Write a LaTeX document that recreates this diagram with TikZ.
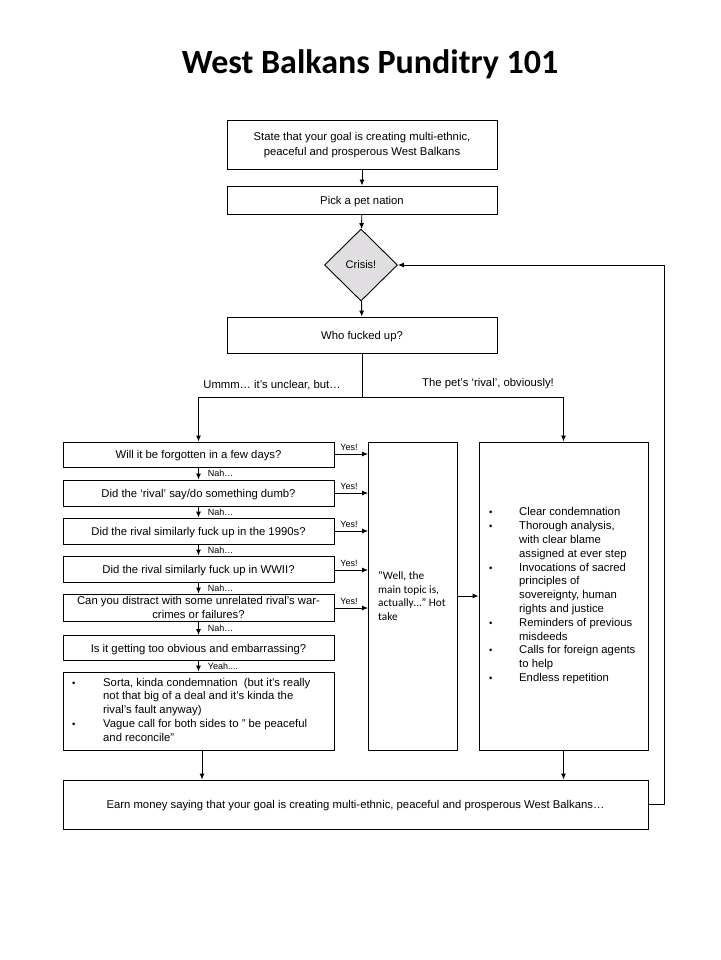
\documentclass[tikz,border=0pt]{standalone}
\usepackage{fontspec}
\setmainfont{Liberation Sans}
\newfontfamily\calfont{Carlito}
\usetikzlibrary{arrows.meta,shapes.geometric}
\tikzset{
  ln/.style={line width=0.9pt, draw=black},
  box/.style={ln, rectangle, inner sep=2pt, align=center, font=\fontsize{11.3}{13.8}\selectfont},
  one/.style={text height=8.6pt, text depth=0.5pt},
  qbox/.style={box, minimum width=271pt},
  arr/.style={ln, -{Latex[length=6pt,width=5pt]}},
  lbl/.style={font=\fontsize{9}{11}\selectfont, inner sep=1pt},
  toplbl/.style={font=\fontsize{11.3}{13.8}\selectfont, inner sep=1pt},
  txt/.style={inner sep=0pt, anchor=west, font=\fontsize{11.3}{13.8}\selectfont},
}
\newcommand{\bul}{{\fontsize{9.5}{9.5}\selectfont •}}
\begin{document}
\begin{tikzpicture}[x=1pt,y=-1pt]
\fill[white] (0,0) rectangle (720,960);
\useasboundingbox (0,0) rectangle (720,960);

% title
\node[font=\calfont\bfseries\fontsize{34}{40}\selectfont, anchor=base, inner sep=0pt] (title) at (370,74) {West Balkans Punditry 101};

% top chain
\node[box, minimum width=270pt, minimum height=49pt, font=\fontsize{11.3}{15.5}\selectfont] (b1) at (362,145)
  {State that your goal is creating multi-ethnic,\\peaceful and prosperous West Balkans};
\node[box, one, minimum width=270pt, minimum height=28pt] (b2) at (362,200) {Pick a pet nation};
\node[ln, diamond, fill={rgb,255:red,224;green,222;blue,224}, minimum width=73pt, minimum height=72pt, inner sep=0pt,
  font=\fontsize{11}{13}\selectfont] (crisis) at (361,265) {Crisis!};
\node[box, one, minimum width=270pt, minimum height=36pt] (who) at (362,335) {Who fucked up?};

\draw[arr] (b1) -- (b2);
\draw[arr] (b2) -- (crisis);
\draw[arr] (crisis) -- (who);

\coordinate (split) at (362,397);
\node[toplbl] (lu) at (272,385) {Ummm… it’s unclear, but…};
\node[toplbl] (lr) at (488,384) {The pet’s ‘rival’, obviously!};

% left column
\node[qbox, one, minimum height=25pt] (q1) at (198.5,454.5) {Will it be forgotten in a few days?};
\node[qbox, one, minimum height=26pt] (q2) at (198.5,493) {Did the ‘rival’ say/do something dumb?};
\node[qbox, one, minimum height=26pt] (q3) at (198.5,531) {Did the rival similarly fuck up in the 1990s?};
\node[qbox, one, minimum height=26pt] (q4) at (198.5,569) {Did the rival similarly fuck up in WWII?};
\node[qbox, minimum height=27pt] (q5) at (198.5,607.5) {Can you distract with some unrelated rival’s war-\\crimes or failures?};
\node[qbox, one, minimum height=25pt] (q6) at (198.5,648) {Is it getting too obvious and embarrassing?};
\node[qbox, minimum height=78pt] (fb) at (198.5,711) {};
\node[txt] (fbtext) at (72,711) {\begin{tabular}{@{}p{31pt}@{}l@{}}
\bul & Sorta, kinda condemnation\ \ (but it’s really\\
     & not that big of a deal and it’s kinda the\\
     & rival’s fault anyway)\\
\bul & Vague call for both sides to " be peaceful\\
     & and reconcile"
\end{tabular}};

% middle and right boxes
\node[box, minimum width=89pt, minimum height=308pt] (mid) at (413,596) {};
\node[txt, font=\calfont\fontsize{11.3}{13.8}\selectfont, align=left] (midtext) at (378,596)
  {“Well, the\\main topic is,\\actually…” Hot\\take};
\node[box, minimum width=169pt, minimum height=308pt] (rb) at (563.5,596) {};
\node[txt] (rbtext) at (489,596) {\begin{tabular}{@{}p{30pt}@{}l@{}}
\bul & Clear condemnation\\
\bul & Thorough analysis,\\
     & with clear blame\\
     & assigned at ever step\\
\bul & Invocations of sacred\\
     & principles of\\
     & sovereignty, human\\
     & rights and justice\\
\bul & Reminders of previous\\
     & misdeeds\\
\bul & Calls for foreign agents\\
     & to help\\
\bul & Endless repetition
\end{tabular}};

% bottom box
\node[box, one, minimum width=585pt, minimum height=49pt] (bot) at (355.5,804.5)
  {Earn money saying that your goal is creating multi-ethnic, peaceful and prosperous West Balkans…};

% split connectors
\draw[ln] (who.south) -- (split);
\draw[arr] (split) -| (q1.north);
\draw[arr] (split) -| (rb.north);

% Nah chain
\draw[arr] (q1) -- (q2) node[lbl, midway, anchor=west, xshift=8pt] (n1) {Nah…};
\draw[arr] (q2) -- (q3) node[lbl, midway, anchor=west, xshift=8pt] (n2) {Nah…};
\draw[arr] (q3) -- (q4) node[lbl, midway, anchor=west, xshift=8pt] (n3) {Nah…};
\draw[arr] (q4) -- (q5) node[lbl, midway, anchor=west, xshift=8pt] (n4) {Nah…};
\draw[arr] (q5) -- (q6) node[lbl, midway, anchor=west, xshift=8pt] (n5) {Nah…};
\draw[arr] (q6) -- (fb) node[lbl, midway, anchor=west, xshift=8pt] (n6) {Yeah....};

% Yes arrows
\foreach \q/\y in {q1/454,q2/493,q3/531,q4/570,q5/608}{
  \coordinate (s\q) at (334,\y);
  \draw[arr] (s\q) -- (s\q -| mid.west) node[lbl, pos=0, anchor=south west, xshift=5pt, yshift=2pt] {Yes!};
}
\draw[arr] (mid.east) -- (rb.west);

% to bottom
\draw[arr] ([xshift=3.5pt]fb.south) -- ([xshift=3.5pt]fb.south |- bot.north);
\draw[arr] (rb.south) -- (rb.south |- bot.north);

% loop back
\coordinate (lp) at (664,265);
\draw[arr] (bot.east) -| (lp) -- (crisis.east);
\end{tikzpicture}
\end{document}
